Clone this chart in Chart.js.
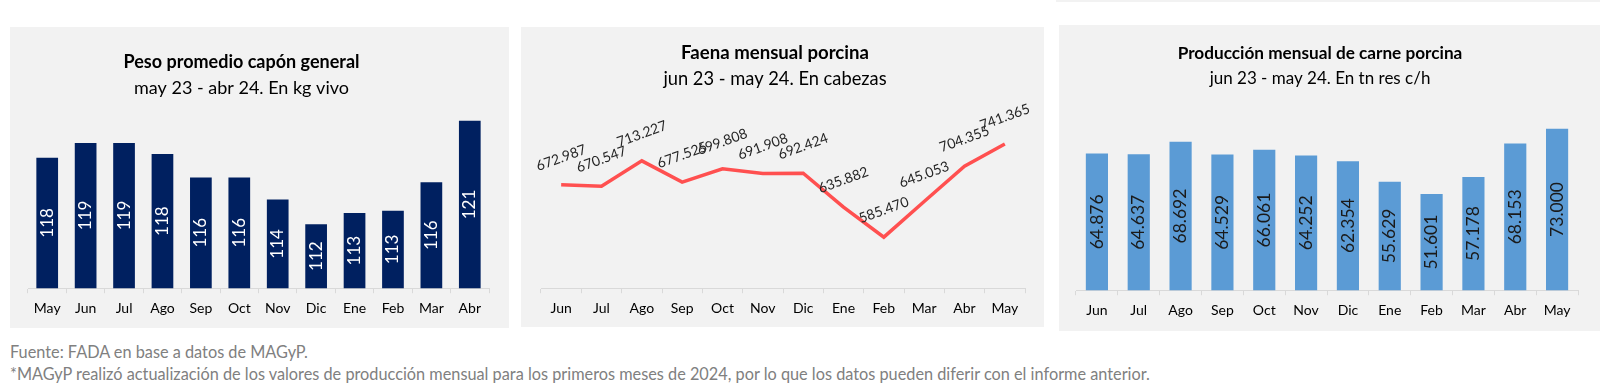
<!DOCTYPE html>
<html lang="es">
<head>
<meta charset="utf-8">
<title>Porcinos</title>
<script src="https://cdn.jsdelivr.net/npm/chart.js@4.4.1/dist/chart.umd.min.js"></script>
<style>
    body { margin: 0; width: 1614px; height: 383px; background: #fff; position: relative; overflow: hidden; font-family: Lato, sans-serif; }
    .panel { position: absolute; background: #f2f2f2; }
    .panel canvas { display: block; }
    #p1 { left: 10px; top: 27px; width: 499px; height: 301px; }
    #p2 { left: 521px; top: 27px; width: 523px; height: 300px; }
    #p3 { left: 1059px; top: 25px; width: 541px; height: 306px; }
    #topLine { position: absolute; left: 1056px; top: 0; width: 544px; height: 2px; background: #f2f2f2; }
    .nota { position: absolute; left: 10px; color: #808080; font-size: 16.3px; line-height: 20px; white-space: nowrap; }
</style>
</head>
<body>
<div id="topLine"></div>
<div class="panel" id="p1"><canvas id="pesoChart" width="499" height="301"></canvas></div>
<div class="panel" id="p2"><canvas id="faenaChart" width="523" height="300"></canvas></div>
<div class="panel" id="p3"><canvas id="produccionChart" width="541" height="306"></canvas></div>
<div class="nota" style="top: 342px;">Fuente: FADA en base a datos de MAGyP.</div>
<div class="nota" style="top: 364px;">*MAGyP realizó actualización de los valores de producción mensual para los primeros meses de 2024, por lo que los datos pueden diferir con el informe anterior.</div>

<script>
// Peso promedio capón (kg vivo), may 23 - abr 24
const pesoMeses = ['May', 'Jun', 'Jul', 'Ago', 'Sep', 'Oct', 'Nov', 'Dic', 'Ene', 'Feb', 'Mar', 'Abr'];
const pesoValores = [117.6, 118.8, 118.8, 117.9, 116.0, 116.0, 114.2, 112.2, 113.1, 113.3, 115.6, 120.6];

// Faena mensual porcina (cabezas), jun 23 - may 24
const faenaMeses = ['Jun', 'Jul', 'Ago', 'Sep', 'Oct', 'Nov', 'Dic', 'Ene', 'Feb', 'Mar', 'Abr', 'May'];
const faenaValores = [672987, 670547, 713227, 677525, 699808, 691908, 692424, 635882, 585470, 645053, 704355, 741365];

// Producción mensual de carne porcina (tn res c/h), jun 23 - may 24
const prodMeses = ['Jun', 'Jul', 'Ago', 'Sep', 'Oct', 'Nov', 'Dic', 'Ene', 'Feb', 'Mar', 'Abr', 'May'];
const prodValores = [64876, 64637, 68692, 64529, 66061, 64252, 62354, 55629, 51601, 57178, 68153, 73000];

const FONT = 'Lato';

// Format number with dot as thousands separator
function formatMiles(v) {
    return String(Math.round(v)).replace(/\B(?=(\d{3})+(?!\d))/g, '.');
}

// Draws the value labels on each bar / point
const valueLabels = {
    id: 'valueLabels',
    afterDatasetsDraw(chart, args, opts) {
        const ctx = chart.ctx;
        const meta = chart.getDatasetMeta(0);
        const data = chart.data.datasets[0].data;
        const bottom = chart.chartArea.bottom;
        ctx.save();
        ctx.font = opts.size + 'px ' + FONT;
        ctx.fillStyle = opts.color;
        ctx.textAlign = 'center';
        ctx.textBaseline = 'middle';
        meta.data.forEach((el, i) => {
            const text = opts.miles ? formatMiles(data[i]) : String(Math.round(data[i]));
            ctx.save();
            if (opts.mode === 'bar') {
                // bars start at the axis, not at zero
                ctx.translate(el.x, (el.y + bottom) / 2);
                ctx.rotate(-Math.PI / 2);
            } else {
                ctx.translate(el.x, el.y - opts.offset);
                ctx.rotate(opts.angle * Math.PI / 180);
            }
            ctx.fillText(text, 0, 0);
            ctx.restore();
        });
        ctx.restore();
    }
};

// Title and subtitle, centred on a given x (the original is not centred on the panel)
const panelTitles = {
    id: 'panelTitles',
    afterDraw(chart, args, opts) {
        const ctx = chart.ctx;
        ctx.save();
        ctx.fillStyle = '#000';
        ctx.textAlign = 'center';
        ctx.textBaseline = 'middle';
        ctx.font = 'bold ' + opts.tSize + 'px ' + FONT;
        ctx.fillText(opts.title, opts.x, opts.tY);
        ctx.font = opts.sSize + 'px ' + FONT;
        ctx.fillText(opts.subtitle, opts.x, opts.sY);
        ctx.restore();
    }
};

function xAxis() {
    return {
        offset: true,
        grid: { display: true, offset: true, drawOnChartArea: false, drawTicks: true, tickLength: 5, color: '#d9d9d9' },
        border: { display: true, color: '#d9d9d9' },
        ticks: { color: '#000', padding: 7, maxRotation: 0, font: { family: FONT, size: 14 } }
    };
}

function yAxis(min, max) {
    return { display: false, min: min, max: max };
}

// Peso promedio capón general
new Chart(document.getElementById('pesoChart'), {
    type: 'bar',
    data: {
        labels: pesoMeses,
        datasets: [{
            data: pesoValores,
            backgroundColor: '#002060',
            categoryPercentage: 1,
            barPercentage: 0.565
        }]
    },
    options: {
        responsive: false,
        animation: false,
        layout: { padding: { left: 18, right: 20, top: 76.5, bottom: 4 } },
        scales: { x: xAxis(), y: yAxis(107, 122) },
        plugins: {
            legend: { display: false },
            tooltip: { enabled: false },
            valueLabels: { mode: 'bar', size: 17, color: '#ffffff', miles: false },
            panelTitles: { title: 'Peso promedio capón general', subtitle: 'may 23 - abr 24. En kg vivo', x: 231.5, tY: 35.5, sY: 61.5, tSize: 18, sSize: 18 }
        }
    },
    plugins: [valueLabels, panelTitles]
});

// Faena mensual porcina
new Chart(document.getElementById('faenaChart'), {
    type: 'line',
    data: {
        labels: faenaMeses,
        datasets: [{
            data: faenaValores,
            borderColor: '#ff5050',
            borderWidth: 3.5,
            pointRadius: 0,
            tension: 0,
            fill: false
        }]
    },
    options: {
        responsive: false,
        animation: false,
        layout: { padding: { left: 20, right: 19, top: 82, bottom: 3 } },
        scales: { x: xAxis(), y: yAxis(500000, 800000) },
        plugins: {
            legend: { display: false },
            tooltip: { enabled: false },
            valueLabels: { mode: 'line', size: 14, color: '#262626', miles: true, offset: 27, angle: -20 },
            panelTitles: { title: 'Faena mensual porcina', subtitle: 'jun 23 - may 24. En cabezas', x: 254, tY: 26, sY: 52, tSize: 18.6, sSize: 18.3 }
        }
    },
    plugins: [valueLabels, panelTitles]
});

// Producción mensual de carne porcina
new Chart(document.getElementById('produccionChart'), {
    type: 'bar',
    data: {
        labels: prodMeses,
        datasets: [{
            data: prodValores,
            backgroundColor: '#5b9bd5',
            categoryPercentage: 1,
            barPercentage: 0.53
        }]
    },
    options: {
        responsive: false,
        animation: false,
        layout: { padding: { left: 17, right: 22, top: 82.4, bottom: 5 } },
        scales: { x: xAxis(), y: yAxis(20000, 80000) },
        plugins: {
            legend: { display: false },
            tooltip: { enabled: false },
            valueLabels: { mode: 'bar', size: 17.5, color: '#1a1a1a', miles: true },
            panelTitles: { title: 'Producción mensual de carne porcina', subtitle: 'jun 23 - may 24. En tn res c/h', x: 261, tY: 28, sY: 54, tSize: 17.2, sSize: 17 }
        }
    },
    plugins: [valueLabels, panelTitles]
});
</script>
</body>
</html>
